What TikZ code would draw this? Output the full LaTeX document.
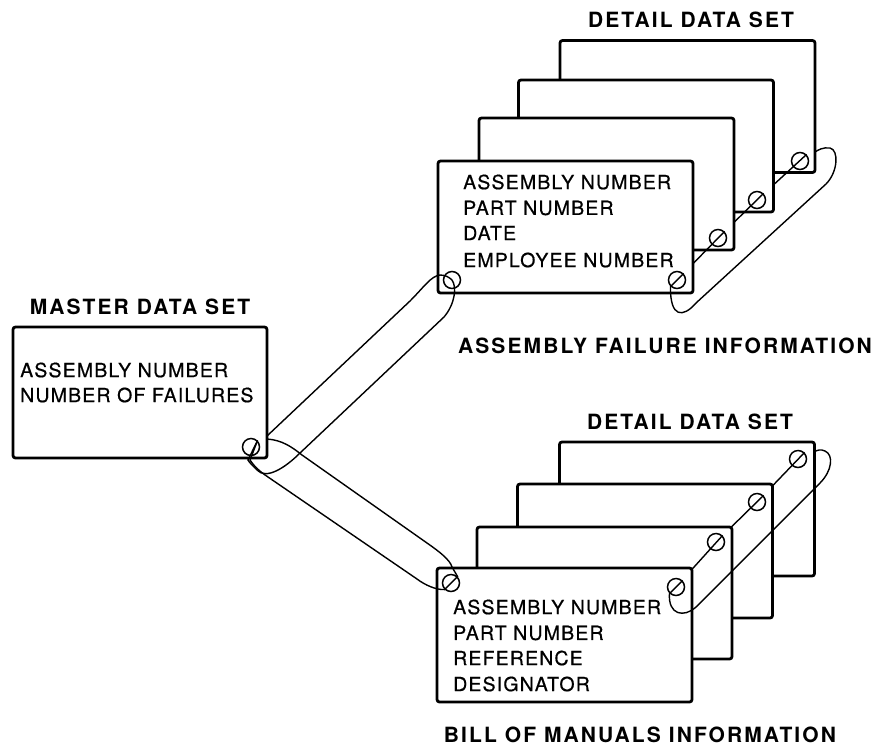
\documentclass[tikz,border=0pt]{standalone}
\usepackage{fontspec}
\setmainfont{TeX Gyre Heros}
\newfontfamily\bodyfont[LetterSpace=6,FakeBold=0.6]{TeX Gyre Heros}
\newfontfamily\titlefont[LetterSpace=10]{TeX Gyre Heros}
\begin{document}
\begin{tikzpicture}[x=1pt,y=-1pt,
  card/.style={draw, line width=2.8pt, rounded corners=2.5pt, fill=white, inner sep=0pt,
               minimum width=255pt, minimum height=132pt},
  hole/.style={draw, circle, line width=1.5pt, minimum size=17pt, inner sep=0pt},
  string/.style={line width=1.4pt},
  body/.style={anchor=west, inner sep=0pt, font=\bodyfont\fontsize{19.5}{20}\selectfont},
  title/.style={inner sep=0pt, font=\titlefont\bfseries\fontsize{21}{22}\selectfont}]
\path[use as bounding box, fill=white] (0,0) rectangle (885,748);

% hole centres
\coordinate (p-mh) at (251,447);
\coordinate (p-u1l) at (452,280);
\coordinate (p-u1) at (677,280);
\coordinate (p-u2) at (718,238);
\coordinate (p-u3) at (757,200);
\coordinate (p-u4) at (800,161);
\coordinate (p-l1l) at (451,583);
\coordinate (p-l1) at (676,587);
\coordinate (p-l2) at (716,542);
\coordinate (p-l3) at (757,502);
\coordinate (p-l4) at (798,459);
% free ends of strings
\coordinate (mu) at (267,436);
\coordinate (ml) at (267,439);
\coordinate (ue) at (815,152);
\coordinate (le) at (814,452);

% master data set
\node[card, minimum width=254pt, minimum height=131pt] (m) at (140,392.5) {};
\node[hole] (mh) at (p-mh) {};
\node[title] (tmaster) at (140,307) {MASTER DATA SET};
\node[body] (m1) at (20,370) {ASSEMBLY NUMBER};
\node[body] (m2) at (20,395) {NUMBER OF FAILURES};

% upper detail stack
\node[card] (u4) at (687.5,106.5) {};
\node[hole] (uh4) at (p-u4) {};
\draw[string] (uh4.north east) -- (p-u3);
\node[card] (u3) at (646,146) {};
\node[hole] (uh3) at (p-u3) {};
\draw[string] (uh3.north east) -- (p-u2);
\node[card] (u2) at (606.5,184) {};
\node[hole] (uh2) at (p-u2) {};
\draw[string] (uh2.north east) -- (p-u1);
\node[card] (u1) at (565.5,227) {};
\node[hole] (uh1) at (p-u1) {};
\node[hole] (uh1l) at (p-u1l) {};
\node[body] (ua) at (463,182) {ASSEMBLY NUMBER};
\node[body] (ub) at (463,208) {PART NUMBER};
\node[body] (uc) at (463,233) {DATE};
\node[body] (ud) at (463,260) {EMPLOYEE NUMBER};
\node[title] (tu) at (691,20) {DETAIL DATA SET};
\node[title] (tuinfo) at (665,346) {ASSEMBLY FAILURE INFORMATION};

% lower detail stack
\node[card, minimum height=134pt] (l4) at (687,509) {};
\node[hole] (lh4) at (p-l4) {};
\draw[string] (lh4.north east) -- (p-l3);
\node[card, minimum height=134pt] (l3) at (645,551) {};
\node[hole] (lh3) at (p-l3) {};
\draw[string] (lh3.north east) -- (p-l2);
\node[card] (l2) at (604.5,593) {};
\node[hole] (lh2) at (p-l2) {};
\draw[string] (lh2.north east) -- (p-l1);
\node[card, minimum height=134pt] (l1) at (564.5,635) {};
\node[hole] (lh1) at (p-l1) {};
\node[hole] (lh1l) at (p-l1l) {};
\node[body] (la) at (453,607) {ASSEMBLY NUMBER};
\node[body] (lb) at (453,633) {PART NUMBER};
\node[body] (lc) at (453,658) {REFERENCE};
\node[body] (ld) at (453,684) {DESIGNATOR};
\node[title] (tl) at (690,422) {DETAIL DATA SET};
\node[title] (tlinfo) at (640,735) {BILL OF MANUALS INFORMATION};

% upper loop through the detail cards
\draw[string] (uh1.north east) -- (uh1.south west)
  .. controls (670,318) and (683,318) .. (696,303) -- (826,184)
  .. controls (838,172) and (839,150) .. (830,148)
  .. controls (823,147) and (818,150) .. (ue);

% lower loop through the detail cards
\draw[string] (lh1.north east) -- (lh1.south west)
  .. controls (668,615) and (684,618) .. (696,607) -- (820,483)
  .. controls (832,471) and (834,455) .. (825,451)
  .. controls (821,449) and (817,450) .. (le);

% chain master -> assembly failure
\draw[string] (mu) -- (410,301)
  .. controls (424,287) and (431,276) .. (440,275)
  .. controls (445,275) and (449,277) .. (uh1l.center)
  .. controls (457,287) and (455,304) .. (444,317) -- (300,453)
  .. controls (285,468) and (266,480) .. (257,470)
  .. controls (252,465) and (249,462) .. (248,460) -- (mh.north east);

% chain master -> bill of manuals
\draw[string] (ml) .. controls (282,440) and (292,447) .. (302,455) -- (427,543)
  .. controls (440,552) and (450,560) .. (452,567) -- (lh1l.north east) -- (lh1l.south west)
  .. controls (436,590) and (425,585) .. (417,579) -- (268,477)
  .. controls (259,471) and (254,466) .. (250,460) -- (mh.north east);
\end{tikzpicture}
\end{document}
